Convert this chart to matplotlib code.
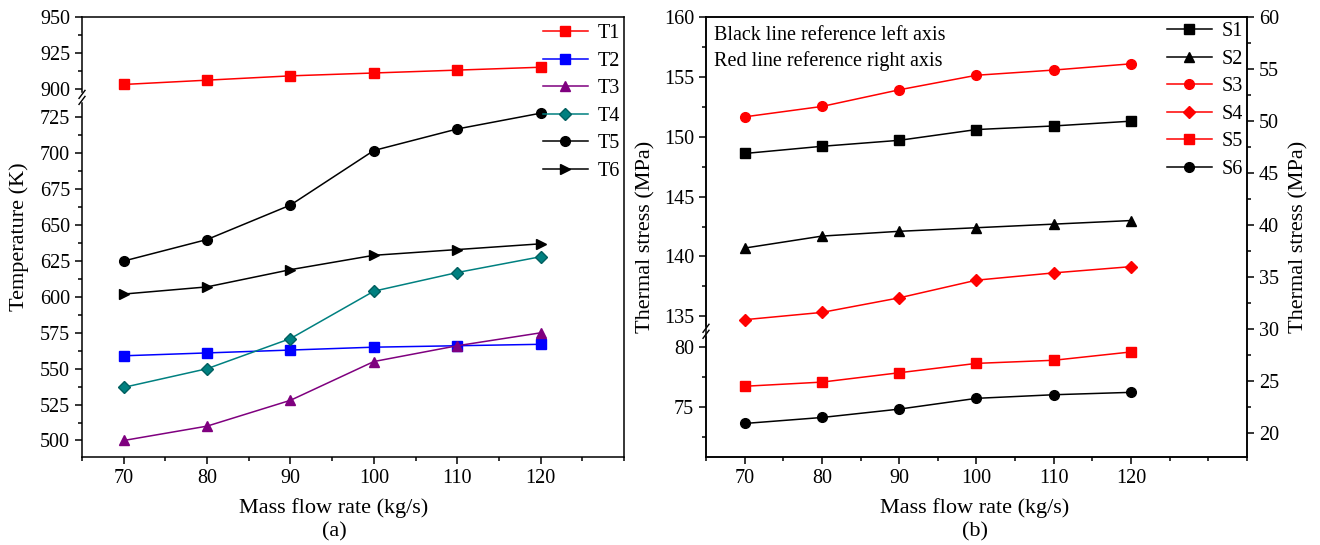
import numpy as np
import matplotlib
matplotlib.use("Agg")
import matplotlib.pyplot as plt
from matplotlib.ticker import FixedLocator, MultipleLocator

plt.rcParams['font.family'] = ['Liberation Serif', 'DejaVu Serif']
plt.rcParams['font.size'] = 14.5

# veriler
flow = [70, 80, 90, 100, 110, 120]

T1 = [903, 906, 909, 911, 913, 915]
T2 = [559, 561, 563, 565, 566, 567]
T3 = [500, 510, 528, 555, 566, 575]
T4 = [537, 550, 571, 604, 617, 628]
T5 = [625, 640, 664, 702, 717, 728]
T6 = [602, 607, 619, 629, 633, 637]

S1 = [148.6, 149.2, 149.7, 150.6, 150.9, 151.3]
S2 = [140.7, 141.7, 142.1, 142.4, 142.7, 143.0]
S3 = [50.4, 51.4, 53.0, 54.4, 54.9, 55.5]
S4 = [30.9, 31.6, 33.0, 34.7, 35.4, 36.0]
S5 = [24.5, 24.9, 25.8, 26.7, 27.0, 27.8]
S6 = [73.6, 74.1, 74.8, 75.7, 76.0, 76.2]

W, H = 1320, 545


def brk(lo, hi):
    # kirik eksen: lo ile hi arasi atlaniyor
    def fwd(y):
        y = np.asarray(y, dtype=float)
        return np.where(y >= hi, y - (hi - lo), np.minimum(y, lo))

    def inv(t):
        t = np.asarray(t, dtype=float)
        return np.where(t > lo, t + (hi - lo), t)
    return fwd, inv


def mark_break(ax, fwd, lo, ymin, ymax):
    pos = ax.get_position()
    w = pos.width * W
    h = pos.height * H
    yf = float((fwd(lo) - fwd(ymin)) / (fwd(ymax) - fwd(ymin)))
    ax.plot([0, 0], [yf - 3 / h, yf + 3 / h], color='white', lw=2.5,
            transform=ax.transAxes, clip_on=False, zorder=5)
    for dy in (-3, 3):
        ax.plot([-3 / w, 3 / w], [yf + (dy - 4) / h, yf + (dy + 4) / h],
                color='black', lw=1.0, transform=ax.transAxes,
                clip_on=False, zorder=6)


def style(ax):
    for s in ax.spines.values():
        s.set_linewidth(1.1)
    ax.tick_params(which='both', direction='out', width=1.1, labelsize=14.5)
    ax.tick_params(which='major', length=5)
    ax.tick_params(which='minor', length=3)


fig = plt.figure(figsize=(W / 100, H / 100), dpi=100)
ax1 = fig.add_axes([82 / W, 1 - 457 / H, 542 / W, 440 / H])
ax2 = fig.add_axes([706 / W, 1 - 457 / H, 541 / W, 440 / H])

kw = dict(lw=1.1, ms=7)
leg_kw = dict(loc='upper right', frameon=False, handlelength=2.2,
              handletextpad=0.5, labelspacing=0.42, borderaxespad=0,
              borderpad=0.2, fontsize=14.5)

# %% (a) sicaklik
f1, i1 = brk(739, 894)
ax1.set_yscale('function', functions=(f1, i1))
ax1.plot(flow, T1, color='#ff0000', marker='s', label='T1', **kw)
ax1.plot(flow, T2, color='#0000ff', marker='s', label='T2', **kw)
ax1.plot(flow, T3, color='#7f007f', marker='^', label='T3', **kw)
ax1.plot(flow, T4, color='#008080', marker='D', mec='#005f5f', label='T4',
         lw=1.1, ms=6)
ax1.plot(flow, T5, color='black', marker='o', label='T5', **kw)
ax1.plot(flow, T6, color='black', marker='>', label='T6', **kw)
ax1.set_xlim(65, 130)
ax1.set_ylim(488.5, 950)
ax1.yaxis.set_major_locator(FixedLocator(list(range(500, 726, 25)) + [900, 925, 950]))
ax1.yaxis.set_minor_locator(FixedLocator([512.5 + 25 * k for k in range(9)] + [912.5, 937.5]))
ax1.xaxis.set_major_locator(FixedLocator(flow))
ax1.xaxis.set_minor_locator(MultipleLocator(5))
style(ax1)
ax1.set_xlabel('Mass flow rate (kg/s)', fontsize=16)
ax1.xaxis.set_label_coords((334 - 82) / 542, -0.094)
ax1.set_ylabel('Temperature (K)', fontsize=16)
ax1.yaxis.set_label_coords(-(82 - 29) / 542, 0.5)
ax1.legend(bbox_to_anchor=(1.0, 0.993), **leg_kw)
mark_break(ax1, f1, 739, 488.5, 950)

# %% (b) termal gerilme
f2, i2 = brk(81.3, 133.75)
ax2.set_yscale('function', functions=(f2, i2))
l1, = ax2.plot(flow, S1, color='black', marker='s', label='S1', **kw)
l2, = ax2.plot(flow, S2, color='black', marker='^', label='S2', **kw)
l6, = ax2.plot(flow, S6, color='black', marker='o', label='S6', **kw)
ax2.set_xlim(65, 135)
ax2.set_ylim(70.8, 160)
ax2.yaxis.set_major_locator(FixedLocator([75, 80, 135, 140, 145, 150, 155, 160]))
ax2.yaxis.set_minor_locator(FixedLocator([72.5, 77.5, 137.5, 142.5, 147.5, 152.5, 157.5]))
ax2.xaxis.set_major_locator(FixedLocator(flow))
ax2.xaxis.set_minor_locator(MultipleLocator(5))
style(ax2)
ax2.tick_params(which='both', right=False)
ax2.set_xlabel('Mass flow rate (kg/s)', fontsize=16)
ax2.xaxis.set_label_coords(0.497, -0.094)
ax2.set_ylabel('Thermal stress (MPa)', fontsize=16)
ax2.yaxis.set_label_coords(-(706 - 655) / 541, 0.5)

ax3 = ax2.twinx()
l3, = ax3.plot(flow, S3, color='#ff0000', marker='o', label='S3', **kw)
l4, = ax3.plot(flow, S4, color='#ff0000', marker='D', label='S4', lw=1.1, ms=6)
l5, = ax3.plot(flow, S5, color='#ff0000', marker='s', label='S5', **kw)
ax3.set_ylim(17.7, 60)
ax3.yaxis.set_major_locator(MultipleLocator(5))
ax3.yaxis.set_minor_locator(MultipleLocator(2.5))
style(ax3)
ax3.set_ylabel('Thermal stress (MPa)', fontsize=16)
ax3.yaxis.set_label_coords((1289 - 706) / 541, 0.5)
ax3.legend([l1, l2, l3, l4, l5, l6], ['S1', 'S2', 'S3', 'S4', 'S5', 'S6'],
           bbox_to_anchor=(1.0, 0.998), **leg_kw)
ax2.text(0.015, 0.98, 'Black line reference left axis\nRed line reference right axis',
         transform=ax2.transAxes, ha='left', va='top', fontsize=14.5,
         linespacing=1.42)
mark_break(ax2, f2, 81.3, 70.8, 160)

fig.text(334 / W, 1 - 532 / H, '(a)', ha='center', va='center', fontsize=16)
fig.text(975 / W, 1 - 532 / H, '(b)', ha='center', va='center', fontsize=16)

fig.savefig('out.png', dpi=100)
